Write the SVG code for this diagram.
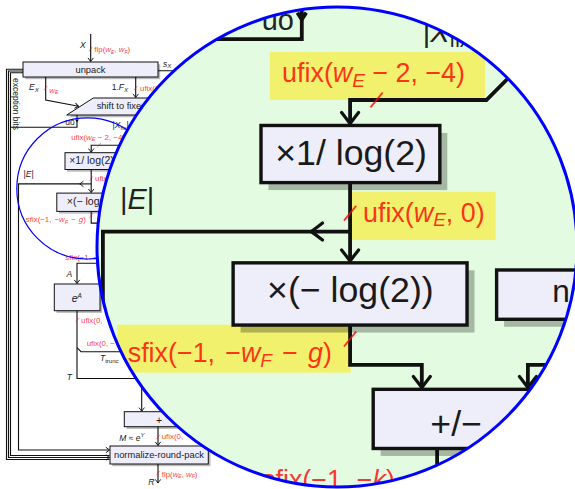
<svg xmlns="http://www.w3.org/2000/svg" xmlns:xlink="http://www.w3.org/1999/xlink" width="575" height="489" viewBox="0 0 575 489">
<style>
.box{fill:#eeeefb;stroke:#111;stroke-width:1}
.sh{fill:#000;fill-opacity:0.27}
.ln{fill:none;stroke:#111;stroke-width:1.12}
.sl{stroke:#f00;stroke-opacity:0.8;stroke-width:0.55}
.rl{font-family:"Liberation Sans",Arial,sans-serif;font-size:7.9px;fill:#f00;fill-opacity:0.8}
.bt{font-family:"Liberation Sans",Arial,sans-serif;font-size:9.3px;fill:#1a1a1a}
.mt{font-family:"Liberation Sans",Arial,sans-serif;font-size:10.5px;fill:#1a1a1a}
.kl{font-family:"Liberation Sans",Arial,sans-serif;font-size:8.5px;fill:#222}
.it{font-style:italic}
.hl{fill:#f1f16e}
</style>
<defs>
<marker id="ar" markerUnits="userSpaceOnUse" viewBox="-4 -3 5 6" markerWidth="5" markerHeight="6" refX="0" refY="0" orient="auto" overflow="visible">
<path d="M-3.3,-2.5 Q-1,-0.7 0,0 Q-1,0.7 -3.3,2.5" fill="none" stroke="#111" stroke-width="0.95" stroke-linecap="round" stroke-linejoin="round"/>
</marker>
<clipPath id="bigclip"><circle cx="337" cy="247" r="240"/></clipPath>
<g id="diagram">
<g id="connectors">
<path class="ln" d="M90.7,34 V61.5" marker-end="url(#ar)"/>
<path class="ln" d="M45.7,77 V100 L78.5,106.3" marker-end="url(#ar)"/>
<path class="ln" d="M135.7,77 V97.5" marker-end="url(#ar)"/>
<path class="ln" d="M158,70.7 H200 V300"/>
<path class="ln" d="M23,69.3 H6.5 V459.5 H109.5" stroke-width="0.8"/>
<path class="ln" d="M23,71 H8.5 V457.5 H109.5" stroke-width="0.8" marker-end="url(#ar)"/>
<path class="ln" d="M23,72.7 H10.5 V455.5 H109.5" stroke-width="0.8"/>
<path class="ln" d="M77,115 V127.3 H10.5"/>
<path class="ln" d="M75.7,119.5 L77,121.5 L78.3,119.5"/>
<path class="ln" d="M140,115 V136.5 L131.3,145.2 H91.2 V152.2" marker-end="url(#ar)"/>
<path class="ln" d="M91.2,169.5 V192.6" marker-end="url(#ar)"/>
<path class="ln" d="M91.2,183.9 H79.8" marker-end="url(#ar)"/>
<path class="ln" d="M80,183.9 H18.5 V450 H109.5" marker-end="url(#ar)"/>
<path class="ln" d="M91.2,211.4 V223.1 H112.3 V229.8" marker-end="url(#ar)"/>
<path class="ln" d="M164,209.7 V223.1 H143.5 V229.8" marker-end="url(#ar)"/>
<path class="ln" d="M116.8,247.7 V263.3 H77 V283.5" marker-end="url(#ar)"/>
<path class="ln" d="M77,310.7 V378.5 H141.7 V411.2" marker-end="url(#ar)"/>
<path class="ln" d="M77,347.7 L81,351.7 H160"/>
<path class="ln" d="M158,426.7 V445.5" marker-end="url(#ar)"/>
<path class="ln" d="M158,464 V483" marker-end="url(#ar)"/>
<line class="sl" x1="88.9" y1="51.2" x2="92.5" y2="46.8"/>
<line class="sl" x1="43.9" y1="90.2" x2="47.5" y2="85.8"/>
<line class="sl" x1="133.9" y1="90.2" x2="137.5" y2="85.8"/>
<line class="sl" x1="97.2" y1="147.4" x2="100.8" y2="143"/>
<line class="sl" x1="89.4" y1="180.7" x2="93" y2="176.3"/>
<line class="sl" x1="89.4" y1="217.7" x2="93" y2="213.3"/>
<line class="sl" x1="115" y1="259.2" x2="118.6" y2="254.8"/>
<line class="sl" x1="75.7" y1="322.2" x2="79.3" y2="317.8"/>
<line class="sl" x1="156.2" y1="439.2" x2="159.8" y2="434.8"/>
<line class="sl" x1="156.2" y1="475.2" x2="159.8" y2="470.8"/>
</g>
<g id="n-unpack"><rect class="sh" x="25.2" y="64.2" width="135" height="15"/><rect class="box" x="23" y="62" width="135" height="15"/><text class="bt" x="90.5" y="72.7" text-anchor="middle">unpack</text></g>
<g id="n-shift"><polygon class="sh" points="95.5,100.2 187.2,100.2 160.6,117.2 68.9,117.2"/><polygon class="box" points="93.3,98 185,98 158.4,115 66.7,115"/><text class="bt" x="96.7" y="109.3">shift to fixed-point</text></g>
<g id="n-invlog"><rect class="sh" x="67.2" y="154.9" width="52.6" height="16.8"/><rect class="box" x="65" y="152.7" width="52.6" height="16.8"/><text class="mt" x="91.5" y="164.2" text-anchor="middle">×1/ log(2)</text></g>
<g id="n-neglog"><rect class="sh" x="59" y="195.3" width="68.8" height="18.3"/><rect class="box" x="56.8" y="193.1" width="68.8" height="18.3"/><text class="mt" x="91.3" y="204.6" text-anchor="middle">×(− log(2))</text></g>
<g id="n-n"><rect class="sh" x="136.5" y="197.4" width="60" height="14.5"/><rect class="box" x="134.3" y="195.2" width="60" height="14.5"/><text class="bt" x="150.7" y="204.5">n</text></g>
<g id="n-addsub"><rect class="sh" x="100.2" y="232.5" width="60" height="17.4"/><rect class="box" x="98" y="230.3" width="60" height="17.4"/><text class="mt" x="114.8" y="244" font-size="14">+/−</text></g>
<g id="n-expA"><rect class="sh" x="56.5" y="286.2" width="45.7" height="26.7"/><rect class="box" x="54.3" y="284" width="45.7" height="26.7"/><text class="mt it" x="71.7" y="301.7" font-size="9.5">e<tspan font-size="6.5" dy="-4">A</tspan></text></g>
<g id="n-plus"><rect class="sh" x="126.5" y="413.9" width="69.4" height="15"/><rect class="box" x="124.3" y="411.7" width="69.4" height="15"/><text class="mt" x="159" y="423.5" text-anchor="middle" font-size="12">+</text></g>
<g id="n-norm"><rect class="sh" x="112.2" y="448.2" width="98.3" height="18"/><rect class="box" x="110" y="446" width="98.3" height="18"/><text class="bt" x="159" y="458.2" text-anchor="middle">normalize-round-pack</text></g>
<g id="labels">
<text class="kl it" x="80" y="47.7">X</text>
<text class="kl" x="29" y="90"><tspan class="it">E</tspan><tspan class="it" font-size="6" dy="1.5">X</tspan></text>
<text class="kl" x="111.7" y="90">1.<tspan class="it">F</tspan><tspan class="it" font-size="6" dy="1.5">X</tspan></text>
<text class="kl" x="163" y="66.7"><tspan class="it">s</tspan><tspan class="it" font-size="6" dy="1.5">X</tspan></text>
<text class="kl" x="13.3" y="0" font-size="7.5" transform="translate(13.3,78) rotate(90) translate(-13.3,0)">exception bits</text>
<text class="kl" x="65.2" y="124.6" font-size="7.5">uo</text>
<text class="kl" x="112.6" y="128.2">|<tspan class="it">X</tspan><tspan font-size="6" dy="1.5">fix</tspan><tspan dy="-1.5">|</tspan></text>
<text class="kl" x="23.5" y="177.4" font-size="9.3">|<tspan class="it">E</tspan>|</text>
<text class="kl it" x="66.5" y="276.5">A</text>
<text class="kl" x="100" y="361"><tspan class="it">T</tspan><tspan font-size="6" dy="1.5">trunc</tspan></text>
<text class="kl it" x="66.7" y="380">T</text>
<text class="kl" x="119.3" y="440.7"><tspan class="it">M</tspan> ≈ <tspan class="it">e</tspan><tspan class="it" font-size="6" dy="-3.5">Y</tspan></text>
<text class="kl it" x="148.3" y="485">R</text>
<text class="rl" x="94.3" y="52.3" font-size="7">flp(<tspan class="it">w</tspan><tspan class="it" font-size="5" dy="1.4">E</tspan><tspan dy="-1.4">, </tspan><tspan class="it">w</tspan><tspan class="it" font-size="5" dy="1.4">F</tspan><tspan dy="-1.4">)</tspan></text>
<text class="rl" x="49.3" y="92.7" font-size="7"><tspan class="it">w</tspan><tspan class="it" font-size="5" dy="1.4">E</tspan></text>
<text class="rl" x="140" y="90.7" font-size="7">ufix(0, −<tspan class="it">w</tspan><tspan class="it" font-size="5" dy="1.4">F</tspan><tspan dy="-1.4">)</tspan></text>
<text class="rl" x="71.2" y="139.9">ufix(<tspan class="it">w</tspan><tspan class="it" font-size="5.6" dy="1.4">E</tspan><tspan dy="-1.4"> − 2, −4)</tspan></text>
<text class="rl" x="95" y="181">ufix(<tspan class="it">w</tspan><tspan class="it" font-size="5.6" dy="1.4">E</tspan><tspan dy="-1.4">, 0)</tspan></text>
<text class="rl" x="25.8" y="222.2" word-spacing="0.8">sfix(−1, −<tspan class="it">w</tspan><tspan class="it" font-size="5.6" dy="1.4">F</tspan><tspan dy="-1.4"> − </tspan><tspan class="it">g</tspan>)</text>
<text class="rl" x="65.3" y="259.5">sfix(−1, −<tspan class="it">k</tspan>)</text>
<text class="rl" x="81" y="322.5" font-size="7">ufix(0,</text>
<text class="rl" x="86.7" y="346" font-size="7">ufix(0, −</text>
<text class="rl" x="161.7" y="439.3" font-size="7">ufix(0,</text>
<text class="rl" x="161.7" y="476.7" font-size="7">flp(<tspan class="it">w</tspan><tspan class="it" font-size="5" dy="1.4">E</tspan><tspan dy="-1.4">, </tspan><tspan class="it">w</tspan><tspan class="it" font-size="5" dy="1.4">F</tspan><tspan dy="-1.4">)</tspan></text>
</g>
</g>
</defs>
<rect width="575" height="489" fill="#fff"/>
<use xlink:href="#diagram"/>
<circle cx="87.4" cy="188.4" r="70.6" fill="none" stroke="#0000ff" stroke-width="1.2"/>
<g id="magnifier">
<g clip-path="url(#bigclip)">
<circle cx="337" cy="247" r="240" fill="#e3fce1"/>
<g transform="translate(40,-393.7) scale(3.4)">
<rect class="hl" x="67.6" y="131.1" width="63.3" height="14.1"/>
<rect class="hl" x="91.4" y="172.2" width="42.6" height="14.2"/>
<rect class="hl" x="22.7" y="211.3" width="68.7" height="14.1"/>
<use xlink:href="#diagram"/>
</g>
</g>
<circle cx="337" cy="247" r="240" fill="none" stroke="#0000ff" stroke-width="3"/>
</g>
</svg>
